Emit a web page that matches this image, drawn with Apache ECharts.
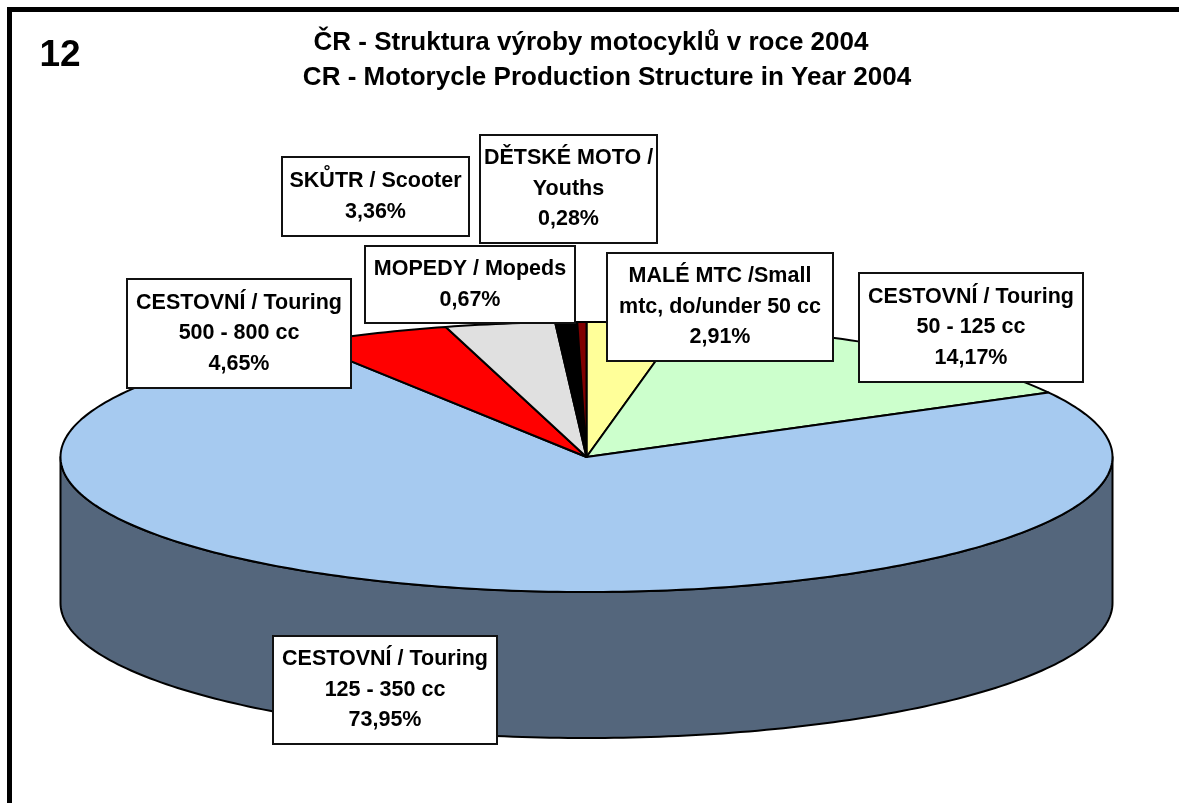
<!DOCTYPE html>
<html>
<head>
<meta charset="utf-8">
<title>CR - Motorcycle Production Structure 2004</title>
<script src="https://cdn.jsdelivr.net/npm/echarts@6/dist/echarts.min.js"></script>
<style>
  html, body { margin: 0; padding: 0; background: #fff; overflow: hidden; }
  #chart { width: 1179px; height: 803px; }
</style>
</head>
<body>
<div id="chart"></div>
<script>
// slices, clockwise from 12 o'clock
const categories = [
  'MALÉ MTC /Small\nmtc, do/under 50 cc',
  'CESTOVNÍ / Touring\n50 - 125 cc',
  'CESTOVNÍ / Touring\n125 - 350 cc',
  'CESTOVNÍ / Touring\n500 - 800 cc',
  'SKŮTR / Scooter',
  'MOPEDY / Mopeds',
  'DĚTSKÉ MOTO /\nYouths',
];
const shares = [2.91, 14.17, 73.95, 4.65, 3.36, 0.67, 0.28];
const sliceColors = ['#FFFF99', '#CCFFCC', '#A6CAF0', '#FF0000', '#E0E0E0', '#000000', '#800000'];
const wallColors = ['#80804D', '#668066', '#54667C', '#800000', '#707070', '#000000', '#400000'];
const titleLines = ['ČR - Struktura výroby motocyklů v roce 2004', 'CR - Motorycle Production Structure in Year 2004'];
const pageNumber = '12';

// label boxes, same order as categories: left, top, right, bottom
const labelBoxes = [
  [607, 253, 833, 361],
  [859, 273, 1083, 382],
  [273, 636, 497, 744],
  [127, 279, 351, 388],
  [282, 157, 469, 236],
  [365, 246, 575, 323],
  [480, 135, 657, 243],
];

const LABEL_FONT = 'bold 21.5px "Liberation Sans", Arial, sans-serif';
const TITLE_FONT = 'bold 26px "Liberation Sans", Arial, sans-serif';
const WALL_DEPTH = 146 / 135; // in y axis units, the axis spans 135px per unit

// [start %, end %, index]
let total = 0;
const sliceData = shares.map((v, i) => {
  const row = [total, total + v, i];
  total += v;
  return row;
});
const sum = total;

function rimPoint(api, pct, drop) {
  const a = pct / sum * Math.PI * 2;
  return api.coord([Math.sin(a), Math.cos(a) - drop]);
}

function arc(api, from, to, drop) {
  const pts = [];
  const steps = Math.max(2, Math.ceil((to - from) / sum * 360));
  for (let s = 0; s <= steps; s++) {
    pts.push(rimPoint(api, from + (to - from) * s / steps, drop));
  }
  return pts;
}

function renderTop(params, api) {
  const i = api.value(2);
  const pts = arc(api, api.value(0), api.value(1), 0);
  pts.push(api.coord([0, 0]));
  return {
    type: 'polygon',
    shape: { points: pts },
    style: { fill: sliceColors[i], stroke: '#000', lineWidth: 2, lineJoin: 'round' },
  };
}

// only the part of the rim facing the viewer gets a wall
function renderWall(params, api) {
  const i = api.value(2);
  const from = Math.max(api.value(0), sum / 4);
  const to = Math.min(api.value(1), sum * 3 / 4);
  if (to <= from) return null;
  const pts = arc(api, from, to, 0).concat(arc(api, from, to, WALL_DEPTH).reverse());
  return {
    type: 'polygon',
    shape: { points: pts },
    style: { fill: wallColors[i], stroke: '#000', lineWidth: 2, lineJoin: 'round' },
  };
}

function percent(v) {
  return v.toFixed(2).replace('.', ',') + '%';
}

const labelGraphics = [];
categories.forEach((name, i) => {
  const b = labelBoxes[i];
  labelGraphics.push({
    type: 'rect',
    z: 10,
    shape: { x: b[0], y: b[1], width: b[2] - b[0], height: b[3] - b[1] },
    style: { fill: '#fff', stroke: '#111', lineWidth: 2 },
  });
  labelGraphics.push({
    type: 'text',
    z: 11,
    x: (b[0] + b[2]) / 2,
    y: (b[1] + b[3]) / 2,
    style: {
      text: name + '\n' + percent(shares[i]),
      font: LABEL_FONT,
      lineHeight: 30.5,
      fill: '#000',
      align: 'center',
      verticalAlign: 'middle',
    },
  });
});

const chart = echarts.init(document.getElementById('chart'), null, { renderer: 'canvas' });
chart.setOption({
  animation: false,
  backgroundColor: '#fff',
  // axes span the unit circle, so the grid box gives the ellipse of the pie
  grid: { left: 60.5, top: 322, width: 1052, height: 270 },
  xAxis: { type: 'value', min: -1, max: 1, show: false },
  yAxis: { type: 'value', min: -1, max: 1, show: false },
  series: [
    { type: 'custom', name: 'wall', z: 2, clip: false, silent: true, renderItem: renderWall, data: sliceData },
    { type: 'custom', name: 'top', z: 3, clip: false, silent: true, renderItem: renderTop, data: sliceData },
  ],
  graphic: [
    {
      type: 'rect',
      z: 1,
      shape: { x: 9.5, y: 9.5, width: 1400, height: 1000 },
      style: { fill: 'none', stroke: '#000', lineWidth: 5 },
    },
    {
      type: 'text',
      z: 11,
      x: 60,
      y: 56,
      style: {
        text: pageNumber,
        font: 'bold 37px "Liberation Sans", Arial, sans-serif',
        fill: '#000',
        align: 'center',
        verticalAlign: 'middle',
      },
    },
    {
      type: 'text',
      z: 11,
      x: 591,
      y: 42.5,
      style: {
        text: titleLines[0],
        font: TITLE_FONT,
        fill: '#000',
        align: 'center',
        verticalAlign: 'middle',
      },
    },
    {
      type: 'text',
      z: 11,
      x: 607,
      y: 78,
      style: {
        text: titleLines[1],
        font: TITLE_FONT,
        fill: '#000',
        align: 'center',
        verticalAlign: 'middle',
      },
    },
  ].concat(labelGraphics),
});
window.addEventListener('resize', () => { chart.resize(); });
</script>
</body>
</html>
